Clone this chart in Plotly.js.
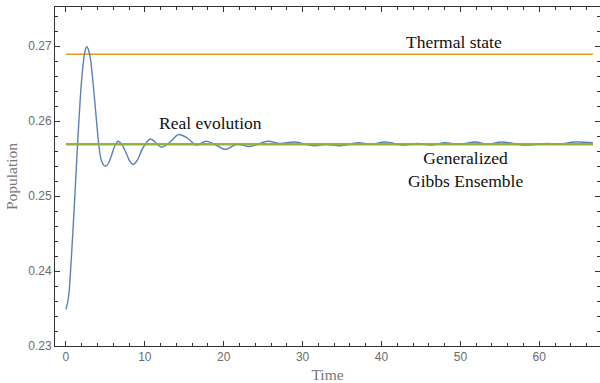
<!DOCTYPE html>
<html>
<head>
<meta charset="utf-8">
<script src="https://cdn.plot.ly/plotly-3.0.1.min.js"></script>
<style>html,body{margin:0;padding:0;background:#fff;}#chart{width:600px;height:383px;}</style>
</head>
<body>
<div id="chart"></div>
<script>
// Real evolution (time, population)
const timeValues = [0, 0.3, 0.6, 0.9, 1.2, 1.5, 1.8, 2.1, 2.4, 2.65, 3.0, 3.3, 3.6, 3.9, 4.2, 4.5, 4.8, 5.05,
  5.4, 5.8, 6.2, 6.6, 7.0, 7.6, 8.1, 8.5, 9.0, 9.8, 10.7, 11.5, 12.1, 13.2, 14.3, 15.4, 16.5, 17.8, 19.0, 20.2,
  21.7, 23.3, 25.6, 27.1, 29.0, 31.4, 33.0, 34.7, 37.0, 38.7, 40.4, 42.7, 44.5, 46.4, 48.0, 49.8, 51.9, 53.5,
  55.2, 58.2, 61.0, 62.5, 64.5, 66.8];
const populationValues = [0.2349, 0.2363, 0.2403, 0.2456, 0.2515, 0.2575, 0.2628, 0.2668, 0.2692, 0.2699, 0.2689, 0.2665, 0.2632, 0.2597, 0.2565, 0.2547, 0.2541, 0.2540,
  0.2544, 0.2555, 0.2567, 0.2573, 0.2570, 0.2558, 0.2546, 0.2542, 0.2547, 0.2565, 0.2576, 0.2570, 0.2565, 0.2572, 0.2582, 0.2577, 0.2568, 0.2573, 0.2568, 0.2562,
  0.2569, 0.2566, 0.2573, 0.2570, 0.2572, 0.2567, 0.2569, 0.2567, 0.2571, 0.2569, 0.2572, 0.2568, 0.2570, 0.2568, 0.2571, 0.2569, 0.2572, 0.2569,
  0.2572, 0.2568, 0.2570, 0.2569, 0.2572, 0.2571];
const thermalState = 0.2689;
const ggeValue = 0.2569;
const lineSpan = [0, 66.8];

const xTickVals = [0, 10, 20, 30, 40, 50, 60];
const xTickText = ['0', '10', '20', '30', '40', '50', '60'];
const yTickVals = [0.23, 0.24, 0.25, 0.26, 0.27];
const yTickText = ['0.23', '0.24', '0.25', '0.26', '0.27'];

const labels = {
  thermal: 'Thermal state',
  real: 'Real evolution',
  gge: 'Generalized<br>Gibbs Ensemble',
  xTitle: 'Time',
  yTitle: 'Population'
};

const serif = 'Liberation Serif, Times New Roman, serif';
const axisColor = '#333333';

const traces = [
  {x: lineSpan, y: [thermalState, thermalState], mode: 'lines', line: {color: '#E19C24', width: 1.5}, hoverinfo: 'skip'},
  {x: timeValues, y: populationValues, mode: 'lines', line: {color: '#5E81B5', width: 1.4, shape: 'spline', smoothing: 1}, hoverinfo: 'skip'},
  {x: lineSpan, y: [ggeValue, ggeValue], mode: 'lines', line: {color: '#8FB032', width: 2.3}, opacity: 0.95, hoverinfo: 'skip'}
];

const axisCommon = {
  showline: true, linecolor: axisColor, linewidth: 1, mirror: 'allticks',
  ticks: 'inside', ticklen: 5, tickcolor: axisColor, tickwidth: 1,
  showgrid: false, zeroline: false,
  tickfont: {family: 'Liberation Sans, Arial, sans-serif', size: 12, color: '#6b6b6b'}
};

const layout = {
  width: 600, height: 383,
  margin: {l: 55, r: 0, t: 7, b: 37},
  paper_bgcolor: '#ffffff', plot_bgcolor: '#ffffff',
  showlegend: false,
  xaxis: Object.assign({}, axisCommon, {
    range: [-1.39, 67.7],
    tickmode: 'array', tickvals: xTickVals, ticktext: xTickText,
    minor: {tickmode: 'linear', dtick: 2, tick0: 0, ticks: 'inside', ticklen: 3, tickcolor: axisColor, tickwidth: 1},
    title: {text: labels.xTitle, font: {family: serif, size: 15.5, color: '#777777'}, standoff: 6}
  }),
  yaxis: Object.assign({}, axisCommon, {
    range: [0.23, 0.2752],
    tickmode: 'array', tickvals: yTickVals, ticktext: yTickText,
    minor: {tickmode: 'linear', dtick: 0.002, tick0: 0.23, ticks: 'inside', ticklen: 3, tickcolor: axisColor, tickwidth: 1},
    title: {text: labels.yTitle, font: {family: serif, size: 15.5, color: '#777777'}, standoff: 6}
  }),
  annotations: [
    {x: 49.2, y: 0.27057, xref: 'x', yref: 'y', text: labels.thermal, showarrow: false, xanchor: 'center', yanchor: 'middle',
     font: {family: serif, size: 17.5, color: '#111111'}},
    {x: 18.3, y: 0.25969, xref: 'x', yref: 'y', text: labels.real, showarrow: false, xanchor: 'center', yanchor: 'middle',
     font: {family: serif, size: 17.5, color: '#111111'}},
    {x: 50.6, y: 0.25347, xref: 'x', yref: 'y', text: labels.gge, showarrow: false, xanchor: 'center', yanchor: 'middle',
     font: {family: serif, size: 17.5, color: '#111111'}}
  ]
};

Plotly.newPlot('chart', traces, layout, {staticPlot: true, displayModeBar: false});
</script>
</body>
</html>
